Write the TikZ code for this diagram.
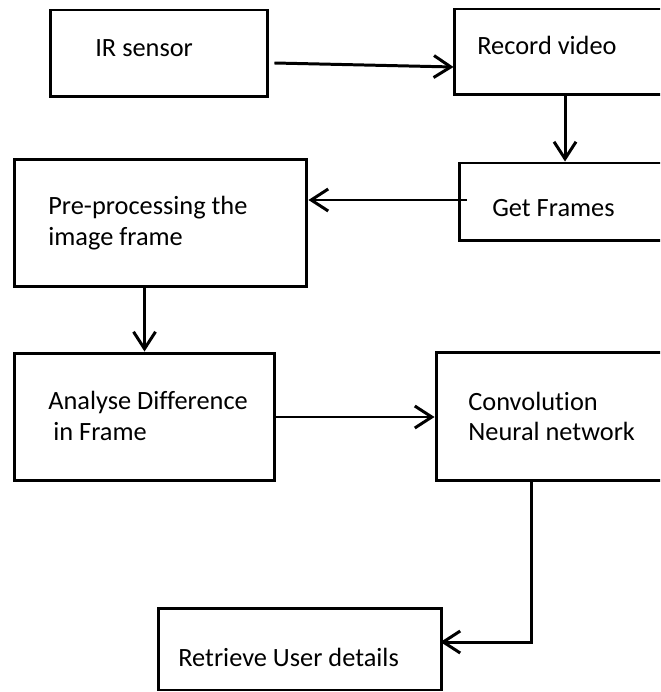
\documentclass[tikz,border=0pt]{standalone}
\usepackage{fontspec}
\setmainfont[Ligatures=NoCommon]{Carlito}
\usetikzlibrary{arrows.meta,calc}

\begin{document}
\begin{tikzpicture}[x=0.02cm,y=-0.02cm,
  box/.style={draw,line width=1.7pt,inner sep=0pt},
  txt/.style={anchor=west,inner sep=0pt,align=left,font=\fontsize{15}{17.5}\selectfont},
  arr/.style={line width=1.7pt,-{Straight Barb[length=3.4mm,width=4.4mm]}}]
\useasboundingbox (0,0) rectangle (660,692);
\clip (0,0) rectangle (660,692);
% boxes
\node[box,minimum width=4.36cm,minimum height=1.74cm] (ir) at (159,53.5) {};
\node[box,minimum width=4.44cm,minimum height=1.72cm] (rec) at (565,52) {};
\node[box,minimum width=4.24cm,minimum height=1.56cm] (getf) at (565,202) {};
\node[box,minimum width=5.86cm,minimum height=2.56cm] (pre) at (160.5,223) {};
\node[box,minimum width=5.22cm,minimum height=2.56cm] (ana) at (144.5,417) {};
\node[box,minimum width=4.88cm,minimum height=2.58cm] (cnn) at (558,416.5) {};
\node[box,minimum width=5.68cm,minimum height=1.64cm] (ret) at (300,649) {};
% texts
\node[txt] (irt) at (95,48) {IR sensor};
\node[txt] (rect) at (477,45) {Record video};
\node[txt] (getft) at (492,208) {Get Frames};
\node[txt] (pret) at (48,223) {Pre-processing the\\image frame};
\node[txt] (anat) at (48,416) {Analyse Difference\\\hspace*{0.1cm}in Frame};
\node[txt] (cnnt) at (468,416.5) {Convolution\\Neural network};
\node[txt] (rett) at (178,657) {Retrieve User details};
% arrows
\draw[arr] ($(ir.east)+(5,9.5)$) -- ($(rec.west)+(1,15)$);
\draw[arr] (rec.south) -- (getf.north);
\draw[arr] ($(getf.west)+(9,-2)$) -- ($(getf.west -| pre.east)+(0,-2)$);
\draw[arr] (pre.south -| ana.north) -- (ana.north);
\draw[arr] (ana.east) -- (ana.east -| cnn.west);
\draw[arr] ($(cnn.south west)+(97,0)$) |- ($(ret.east)+(-3,-7)$);
\end{tikzpicture}
\end{document}
